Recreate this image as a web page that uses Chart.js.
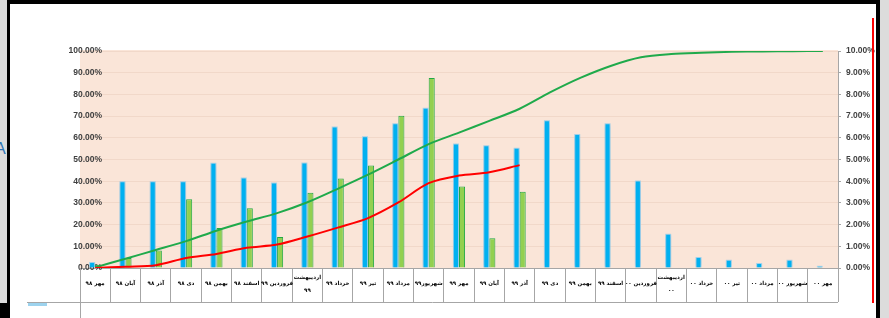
<!DOCTYPE html>
<html>
<head>
<meta charset="utf-8">
<script src="https://cdn.jsdelivr.net/npm/chart.js@4.4.0/dist/chart.umd.min.js"></script>
<style>
  body { margin: 0; background: #fff; }
  #wrap { position: absolute; left: 0; top: 0; width: 889px; height: 318px; }
  .f { position: absolute; pointer-events: none; }
</style>
</head>
<body>
<div id="wrap"><canvas id="statusChart"></canvas></div>
<div class="f" style="left:0;top:0;width:8px;height:318px;background:#dcdcdc;overflow:hidden;">
  <span style="position:absolute;left:-5px;top:140px;color:#2e75b6;font:16px 'Liberation Sans';">A</span>
</div>
<div class="f" style="left:7px;top:0;width:873px;height:4px;background:#000;"></div>
<div class="f" style="left:7px;top:0;width:3px;height:303px;background:#000;"></div>
<div class="f" style="left:0;top:303px;width:10px;height:15px;background:#000;"></div>
<div class="f" style="left:872px;top:18px;width:2px;height:285px;background:#ff0000;"></div>
<div class="f" style="left:876px;top:0;width:4px;height:318px;background:#000;"></div>
<div class="f" style="left:880px;top:0;width:9px;height:318px;background:#dcdcdc;"></div>
<script>
var months = ['مهر ۹۸', 'آبان ۹۸', 'آذر ۹۸', 'دی ۹۸', 'بهمن ۹۸', 'اسفند ۹۸', 'فروردین ۹۹', ['اردیبهشت', '۹۹'],
    'خرداد ۹۹', 'تیر ۹۹', 'مرداد ۹۹', 'شهریور۹۹', 'مهر ۹۹', 'آبان ۹۹', 'آذر ۹۹', 'دی ۹۹', 'بهمن ۹۹', 'اسفند ۹۹',
    'فروردین ۰۰', ['اردیبهشت', '۰۰'], 'خرداد ۰۰', 'تیر ۰۰', 'مرداد ۰۰', 'شهریور ۰۰', 'مهر ۰۰'];

// monthly progress (right axis, %)
var planMonthly = [0.28, 4.0, 4.0, 4.0, 4.85, 4.17, 3.94, 4.86, 6.52, 6.07, 6.67, 7.38, 5.74, 5.66, 5.54,
    6.81, 6.18, 6.67, 4.03, 1.58, 0.51, 0.38, 0.23, 0.38, 0.1];
var actualMonthly = [0.15, 0.46, 0.81, 3.17, 1.84, 2.75, 1.43, 3.47, 4.13, 4.72, 7.02, 8.76, 3.76, 1.37, 3.51,
    null, null, null, null, null, null, null, null, null, null];

// cumulative progress (left axis, %)
var planCumulative = [0.3, 4.3, 8.3, 12.4, 17.2, 21.4, 25.3, 30.3, 36.5, 43.0, 50.0, 57.1, 62.4, 67.8, 73.4,
    80.9, 87.6, 93.1, 97.1, 98.6, 99.2, 99.6, 99.8, 99.9, 100];
var actualCumulative = [0, 0.6, 1.3, 4.6, 6.5, 9.3, 10.8, 14.5, 18.6, 23.0, 30.2, 39.1, 42.6, 44.1, 47.4,
    null, null, null, null, null, null, null, null, null, null];

var leftTicks = [0, 10, 20, 30, 40, 50, 60, 70, 80, 90, 100];
var rightTicks = [0, 1, 2, 3, 4, 5, 6, 7, 8, 9, 10];

var plotBg = {
    id: 'plotBg',
    beforeDraw: function (chart) {
        var a = chart.chartArea, ctx = chart.ctx;
        ctx.save();
        ctx.fillStyle = '#FAE5D8';
        ctx.fillRect(a.left, a.top - 1, a.right - a.left, a.bottom - a.top + 1);
        ctx.restore();
    },
    afterDraw: function (chart) {
        // data table bottom edge
        var a = chart.chartArea, ctx = chart.ctx;
        ctx.save();
        ctx.strokeStyle = '#a6a6a6';
        ctx.lineWidth = 1;
        ctx.beginPath();
        ctx.moveTo(27, 302.5); ctx.lineTo(a.right, 302.5);
        ctx.moveTo(a.left + 0.5, a.bottom); ctx.lineTo(a.left + 0.5, 318);
        ctx.stroke();
        ctx.fillStyle = '#9dd3ee';
        ctx.fillRect(28, 303, 19, 3);
        ctx.restore();
    }
};

var glow = {
    id: 'glow',
    beforeDatasetDraw: function (chart, args) {
        if (args.index === 2) {
            chart.ctx.save();
            chart.ctx.shadowColor = 'rgba(100,180,225,1)';
            chart.ctx.shadowBlur = 5;
        }
    },
    afterDatasetDraw: function (chart, args) {
        if (args.index === 2) chart.ctx.restore();
    }
};

var tickFont = { family: 'Liberation Sans', size: 8.5, weight: 'bold' };

new Chart(document.getElementById('statusChart'), {
    type: 'bar',
    data: {
        labels: months,
        datasets: [{
            type: 'line',
            data: actualCumulative,
            yAxisID: 'y',
            borderColor: '#FF0000',
            borderWidth: 2,
            pointRadius: 0,
            tension: 0.3,
            fill: false
        }, {
            type: 'line',
            data: planCumulative,
            yAxisID: 'y',
            borderColor: '#1FAA4B',
            borderWidth: 2,
            pointRadius: 0,
            tension: 0.3,
            fill: false
        }, {
            data: planMonthly,
            yAxisID: 'y1',
            backgroundColor: '#00B0F0',
            borderColor: 'rgba(170,215,238,0.9)',
            borderWidth: 1,
            categoryPercentage: 0.4,
            barPercentage: 1
        }, {
            data: actualMonthly,
            yAxisID: 'y1',
            backgroundColor: '#92D050',
            borderColor: '#22A845',
            borderWidth: 1,
            categoryPercentage: 0.4,
            barPercentage: 1
        }]
    },
    options: {
        responsive: true,
        maintainAspectRatio: false,
        animation: false,
        layout: { padding: { top: 51, left: 0, right: 0, bottom: 0 } },
        plugins: {
            legend: { display: false },
            tooltip: { enabled: false }
        },
        scales: {
            x: {
                offset: true,
                afterFit: function (s) { s.height = 50; },
                grid: { offset: true, drawOnChartArea: false, drawTicks: true, tickLength: 34, color: '#a6a6a6' },
                border: { color: '#a6a6a6' },
                ticks: {
                    autoSkip: false, maxRotation: 0, minRotation: 0, padding: -24.5, crossAlign: 'center',
                    color: '#000',
                    font: { family: 'DejaVu Sans', size: 5.5, weight: 'bold', lineHeight: '13px' }
                }
            },
            y: {
                position: 'left',
                min: 0,
                max: 100,
                afterFit: function (s) { s.width = 80; },
                afterBuildTicks: function (s) { s.ticks = leftTicks.map(function (v) { return { value: v }; }); },
                grid: { color: '#F1D8C9', drawTicks: false },
                border: { display: false },
                ticks: {
                    mirror: true,
                    crossAlign: 'far',
                    padding: -11.5,
                    color: '#404040',
                    font: tickFont,
                    callback: function (v) { return v.toFixed(2) + '%'; }
                }
            },
            y1: {
                position: 'right',
                min: 0,
                max: 10,
                afterFit: function (s) { s.width = 51; },
                afterBuildTicks: function (s) { s.ticks = rightTicks.map(function (v) { return { value: v }; }); },
                grid: { drawOnChartArea: false, drawTicks: true, tickLength: 3, color: '#a6a6a6' },
                border: { color: '#a6a6a6' },
                ticks: {
                    padding: 5,
                    color: '#404040',
                    font: tickFont,
                    callback: function (v) { return v.toFixed(2) + '%'; }
                }
            }
        }
    },
    plugins: [plotBg, glow]
});
</script>
</body>
</html>
